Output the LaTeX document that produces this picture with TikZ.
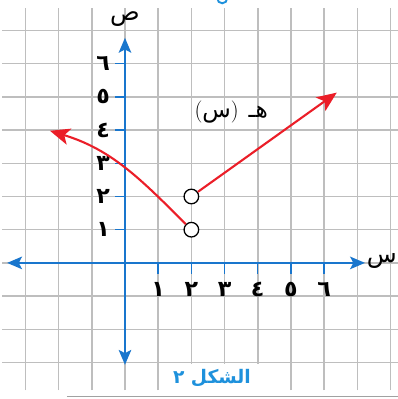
\documentclass[tikz,border=0pt]{standalone}
\usepackage{fontspec}
\usetikzlibrary{arrows.meta}
\TeXXeTstate=1
\newfontfamily\arabicfont[Script=Arabic]{DejaVu Sans}
\definecolor{gridgray}{RGB}{190,190,190}
\definecolor{axisblue}{RGB}{25,118,205}
\definecolor{capblue}{RGB}{30,145,220}
\definecolor{fred}{RGB}{235,30,40}
\begin{document}
\begin{tikzpicture}[x=1cm,y=1cm,
  gridline/.style={gridgray, line width=1.3pt},
  axisline/.style={axisblue, line width=1.2pt,
    {Stealth[length=0.45cm,width=0.38cm,inset=0.1cm]}-{Stealth[length=0.45cm,width=0.38cm,inset=0.1cm]}},
  tickline/.style={axisblue, line width=1.2pt},
  numlabel/.style={font=\arabicfont\bfseries\fontsize{19}{22}\selectfont, inner sep=0pt},
  axlabel/.style={font=\arabicfont\fontsize{21}{24}\selectfont, inner sep=0pt},
  graphline/.style={fred, line width=1.8pt},
  redtip/.style={-{Stealth[length=0.6cm,width=0.5cm,inset=0.15cm]}},
  opendot/.style={circle, draw=black, fill=white, line width=1.1pt, minimum size=0.44cm, inner sep=0pt}
]
\useasboundingbox (-3.765,-4.10) rectangle (8.223,7.92);
\fill[white] (-3.765,-4.10) rectangle (8.223,7.92);
% grid
\foreach \i in {-3,...,8} \draw[gridline] (\i,-3.83) -- (\i,7.68);
\foreach \j in {-3,...,7} \draw[gridline] (-3.7,\j) -- (8.223,\j);
% caption background and bottom rule
\fill[white] (1.1,-3.06) rectangle (4.5,-3.86);
\draw[gridgray!85!black, line width=0.8pt] (-1.75,-4.01) -- (8.223,-4.01);
% top fragment
\begin{scope}
  \clip (-3.765,-4.10) rectangle (8.223,7.92);
  \draw[capblue, line width=1.6pt] (2.93,7.97) circle (0.15);
\end{scope}
% axes
\coordinate (xl) at (-3.55,0);
\coordinate (xr) at (7.23,0);
\coordinate (yb) at (0,-3.07);
\coordinate (yt) at (0,6.78);
\draw[axisline] (xl) -- (xr);
\draw[axisline] (yb) -- (yt);
\foreach \k/\d in {1/١,2/٢,3/٣,4/٤,5/٥,6/٦}{
  \draw[tickline] (\k,0) -- (\k,-0.33);
  \node[numlabel] (xn\k) at (\k,-0.8) {\d};
  \draw[tickline] (0,\k) -- (-0.3,\k);
  \node[numlabel] (yn\k) at (-0.66,\k) {\d};
}
\node[axlabel] (ylab) at (0,7.36) {ص};
\node[axlabel] (xlab) at (7.74,0.05) {س};
% graph
\node[opendot] (p1) at (2,1) {};
\node[opendot] (p2) at (2,2) {};
\coordinate (rt) at (6.38,5.13);
\coordinate (lt) at (-2.26,3.98);
\draw[graphline, redtip] (p2) -- (rt);
\draw[graphline, redtip] (p1) to[out=135,in=-17] (lt);
\node[font=\fontsize{19}{22}\selectfont, inner sep=0pt] (flabel) at (3.2,4.55)
  {({\arabicfont\fontsize{20}{24}\selectfont س})\hspace{0.3cm}{\arabicfont\fontsize{20}{24}\selectfont هـ}};
% caption
\node[text=capblue, font=\arabicfont\bfseries\fontsize{16}{18}\selectfont, inner sep=0pt] (cap) at (2.62,-3.46)
  {\beginR الشكل ٢\endR};
\end{tikzpicture}
\end{document}
